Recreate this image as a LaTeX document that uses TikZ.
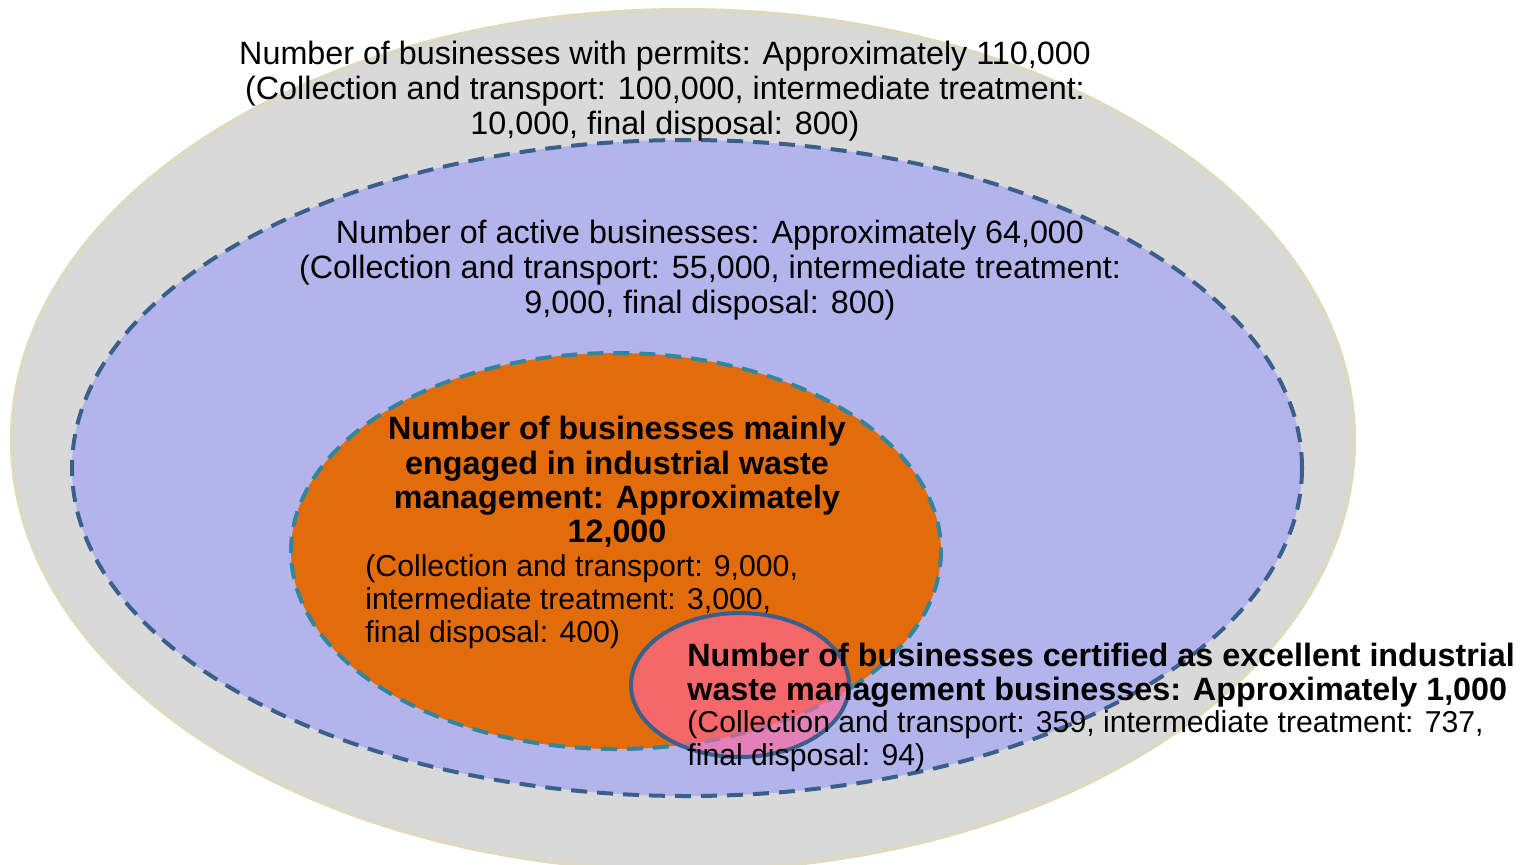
\documentclass[tikz,border=0pt]{standalone}
\usepackage{fontspec}
\setmainfont{Liberation Sans}
\usepackage{tikz}
\usetikzlibrary{positioning}

\definecolor{permitgray}{RGB}{217,217,217}
\definecolor{permitedge}{RGB}{221,217,195}
\definecolor{activeblue}{RGB}{180,180,236}
\definecolor{edgeblue}{RGB}{58,95,139}
\definecolor{mainorange}{RGB}{227,108,10}
\definecolor{edgeteal}{RGB}{49,133,156}
\definecolor{certpink}{RGB}{253,102,160}

\tikzset{
  bigtext/.style={inner sep=0pt, font=\fontsize{16.15}{17.5}\selectfont},
  boldtext/.style={inner sep=0pt, font=\fontsize{16.15}{17.2}\selectfont\bfseries},
  smalltext/.style={inner sep=0pt, align=left, font=\fontsize{15.1}{16.5}\selectfont},
  dashedge/.style={line width=2pt, dash pattern=on 8pt off 5pt}
}

\begin{document}
\begin{tikzpicture}[x=0.5pt,y=-0.5pt]
\useasboundingbox (0,0) rectangle (1521,864);
\clip (0,0) rectangle (1521,864);

% the four sets
\draw[permitedge, line width=2pt, fill=permitgray] (683,440) ellipse [x radius=671, y radius=430];
\draw[edgeblue, dashedge, fill=activeblue] (687,468) ellipse [x radius=615, y radius=328];
\draw[edgeteal, dashedge, fill=mainorange] (616,551) ellipse [x radius=325, y radius=198];
\draw[edgeblue, line width=2pt, fill=certpink, fill opacity=0.66] (740,685) ellipse [x radius=109, y radius=72];

% labels
\node[bigtext, align=center] (permits) at (665,91) {Number of businesses with permits: Approximately 110,000\\(Collection and transport: 100,000, intermediate treatment:\\10,000, final disposal: 800)};
\node[bigtext, align=center] (active) at (710,270) {Number of active businesses: Approximately 64,000\\(Collection and transport: 55,000, intermediate treatment:\\9,000, final disposal: 800)};
\node[boldtext, align=center] (mainly) at (617,482) {Number of businesses mainly\\engaged in industrial waste\\management: Approximately\\12,000};
\node[smalltext, anchor=west] (mainlysub) at (365,602) {(Collection and transport: 9,000,\\intermediate treatment: 3,000,\\final disposal: 400)};
\node[boldtext, align=left, anchor=west] (certified) at (687,675) {Number of businesses certified as excellent industrial\\waste management businesses: Approximately 1,000};
\node[smalltext, anchor=west] (certifiedsub) at (687,741) {(Collection and transport: 359, intermediate treatment: 737,\\final disposal: 94)};

\end{tikzpicture}
\end{document}
